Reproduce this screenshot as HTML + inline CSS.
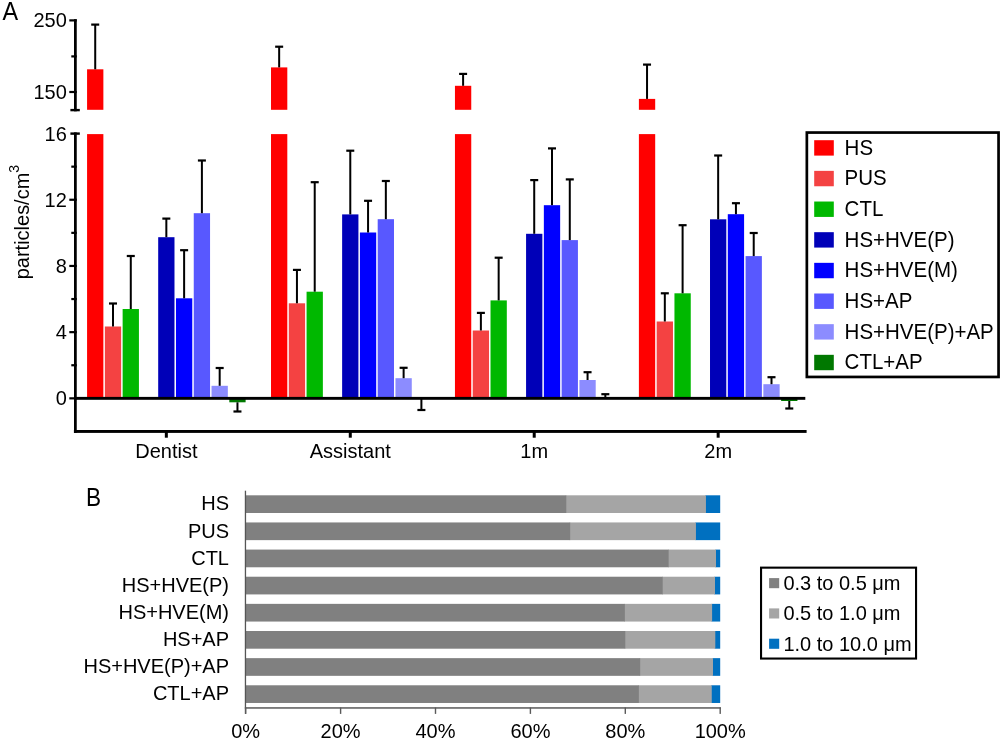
<!DOCTYPE html>
<html><head><meta charset="utf-8"><style>
html,body{margin:0;padding:0;background:#fff;}
svg{display:block;will-change:transform;font-family:"Liberation Sans", sans-serif;}
text{fill:#000;}
</style></head><body>
<svg width="1002" height="741" viewBox="0 0 1002 741">
<rect x="87.07" y="69.30" width="16.30" height="40.50" fill="#ff0000"/>
<rect x="87.07" y="134.10" width="16.30" height="264.25" fill="#ff0000"/>
<rect x="94.22" y="24.60" width="2.00" height="44.70" fill="#000"/>
<rect x="91.22" y="23.50" width="8.00" height="2.20" fill="#000"/>
<rect x="104.85" y="326.50" width="16.30" height="71.85" fill="#f44242"/>
<rect x="112.00" y="303.50" width="2.00" height="23.00" fill="#000"/>
<rect x="109.00" y="302.40" width="8.00" height="2.20" fill="#000"/>
<rect x="122.63" y="309.00" width="16.30" height="89.35" fill="#00b800"/>
<rect x="129.78" y="256.00" width="2.00" height="53.00" fill="#000"/>
<rect x="126.78" y="254.90" width="8.00" height="2.20" fill="#000"/>
<rect x="158.19" y="237.20" width="16.30" height="161.15" fill="#0000b8"/>
<rect x="165.34" y="218.60" width="2.00" height="18.60" fill="#000"/>
<rect x="162.34" y="217.50" width="8.00" height="2.20" fill="#000"/>
<rect x="175.97" y="298.30" width="16.30" height="100.05" fill="#0000ff"/>
<rect x="183.12" y="250.20" width="2.00" height="48.10" fill="#000"/>
<rect x="180.12" y="249.10" width="8.00" height="2.20" fill="#000"/>
<rect x="193.75" y="213.20" width="16.30" height="185.15" fill="#5858ff"/>
<rect x="200.90" y="160.50" width="2.00" height="52.70" fill="#000"/>
<rect x="197.90" y="159.40" width="8.00" height="2.20" fill="#000"/>
<rect x="211.53" y="385.80" width="16.30" height="12.55" fill="#8c8cff"/>
<rect x="218.68" y="368.00" width="2.00" height="17.80" fill="#000"/>
<rect x="215.68" y="366.90" width="8.00" height="2.20" fill="#000"/>
<rect x="229.31" y="398.35" width="16.30" height="3.95" fill="#007800"/>
<rect x="236.46" y="402.30" width="2.00" height="9.20" fill="#000"/>
<rect x="233.46" y="410.40" width="8.00" height="2.20" fill="#000"/>
<rect x="271.01" y="67.40" width="16.30" height="42.40" fill="#ff0000"/>
<rect x="271.01" y="134.10" width="16.30" height="264.25" fill="#ff0000"/>
<rect x="278.16" y="46.70" width="2.00" height="20.70" fill="#000"/>
<rect x="275.16" y="45.60" width="8.00" height="2.20" fill="#000"/>
<rect x="288.79" y="303.30" width="16.30" height="95.05" fill="#f44242"/>
<rect x="295.94" y="269.90" width="2.00" height="33.40" fill="#000"/>
<rect x="292.94" y="268.80" width="8.00" height="2.20" fill="#000"/>
<rect x="306.57" y="291.70" width="16.30" height="106.65" fill="#00b800"/>
<rect x="313.72" y="182.20" width="2.00" height="109.50" fill="#000"/>
<rect x="310.72" y="181.10" width="8.00" height="2.20" fill="#000"/>
<rect x="342.13" y="214.40" width="16.30" height="183.95" fill="#0000b8"/>
<rect x="349.28" y="150.70" width="2.00" height="63.70" fill="#000"/>
<rect x="346.28" y="149.60" width="8.00" height="2.20" fill="#000"/>
<rect x="359.91" y="232.50" width="16.30" height="165.85" fill="#0000ff"/>
<rect x="367.06" y="200.80" width="2.00" height="31.70" fill="#000"/>
<rect x="364.06" y="199.70" width="8.00" height="2.20" fill="#000"/>
<rect x="377.69" y="219.20" width="16.30" height="179.15" fill="#5858ff"/>
<rect x="384.84" y="181.00" width="2.00" height="38.20" fill="#000"/>
<rect x="381.84" y="179.90" width="8.00" height="2.20" fill="#000"/>
<rect x="395.47" y="378.20" width="16.30" height="20.15" fill="#8c8cff"/>
<rect x="402.62" y="367.80" width="2.00" height="10.40" fill="#000"/>
<rect x="399.62" y="366.70" width="8.00" height="2.20" fill="#000"/>
<rect x="413.25" y="398.35" width="16.30" height="0.15" fill="#007800"/>
<rect x="420.40" y="398.50" width="2.00" height="11.50" fill="#000"/>
<rect x="417.40" y="408.90" width="8.00" height="2.20" fill="#000"/>
<rect x="454.95" y="85.80" width="16.30" height="24.00" fill="#ff0000"/>
<rect x="454.95" y="134.10" width="16.30" height="264.25" fill="#ff0000"/>
<rect x="462.10" y="73.90" width="2.00" height="11.90" fill="#000"/>
<rect x="459.10" y="72.80" width="8.00" height="2.20" fill="#000"/>
<rect x="472.73" y="330.50" width="16.30" height="67.85" fill="#f44242"/>
<rect x="479.88" y="312.90" width="2.00" height="17.60" fill="#000"/>
<rect x="476.88" y="311.80" width="8.00" height="2.20" fill="#000"/>
<rect x="490.51" y="300.40" width="16.30" height="97.95" fill="#00b800"/>
<rect x="497.66" y="257.70" width="2.00" height="42.70" fill="#000"/>
<rect x="494.66" y="256.60" width="8.00" height="2.20" fill="#000"/>
<rect x="526.07" y="233.80" width="16.30" height="164.55" fill="#0000b8"/>
<rect x="533.22" y="180.10" width="2.00" height="53.70" fill="#000"/>
<rect x="530.22" y="179.00" width="8.00" height="2.20" fill="#000"/>
<rect x="543.85" y="205.20" width="16.30" height="193.15" fill="#0000ff"/>
<rect x="551.00" y="148.40" width="2.00" height="56.80" fill="#000"/>
<rect x="548.00" y="147.30" width="8.00" height="2.20" fill="#000"/>
<rect x="561.63" y="240.10" width="16.30" height="158.25" fill="#5858ff"/>
<rect x="568.78" y="179.40" width="2.00" height="60.70" fill="#000"/>
<rect x="565.78" y="178.30" width="8.00" height="2.20" fill="#000"/>
<rect x="579.41" y="380.00" width="16.30" height="18.35" fill="#8c8cff"/>
<rect x="586.56" y="372.20" width="2.00" height="7.80" fill="#000"/>
<rect x="583.56" y="371.10" width="8.00" height="2.20" fill="#000"/>
<rect x="597.19" y="398.35" width="16.30" height="0.15" fill="#007800"/>
<rect x="604.34" y="394.20" width="2.00" height="4.30" fill="#000"/>
<rect x="601.34" y="393.10" width="8.00" height="2.20" fill="#000"/>
<rect x="638.89" y="98.90" width="16.30" height="10.90" fill="#ff0000"/>
<rect x="638.89" y="134.10" width="16.30" height="264.25" fill="#ff0000"/>
<rect x="646.04" y="64.60" width="2.00" height="34.30" fill="#000"/>
<rect x="643.04" y="63.50" width="8.00" height="2.20" fill="#000"/>
<rect x="656.67" y="321.50" width="16.30" height="76.85" fill="#f44242"/>
<rect x="663.82" y="293.30" width="2.00" height="28.20" fill="#000"/>
<rect x="660.82" y="292.20" width="8.00" height="2.20" fill="#000"/>
<rect x="674.45" y="293.30" width="16.30" height="105.05" fill="#00b800"/>
<rect x="681.60" y="225.20" width="2.00" height="68.10" fill="#000"/>
<rect x="678.60" y="224.10" width="8.00" height="2.20" fill="#000"/>
<rect x="710.01" y="219.30" width="16.30" height="179.05" fill="#0000b8"/>
<rect x="717.16" y="155.50" width="2.00" height="63.80" fill="#000"/>
<rect x="714.16" y="154.40" width="8.00" height="2.20" fill="#000"/>
<rect x="727.79" y="214.20" width="16.30" height="184.15" fill="#0000ff"/>
<rect x="734.94" y="203.20" width="2.00" height="11.00" fill="#000"/>
<rect x="731.94" y="202.10" width="8.00" height="2.20" fill="#000"/>
<rect x="745.57" y="256.10" width="16.30" height="142.25" fill="#5858ff"/>
<rect x="752.72" y="233.00" width="2.00" height="23.10" fill="#000"/>
<rect x="749.72" y="231.90" width="8.00" height="2.20" fill="#000"/>
<rect x="763.35" y="384.20" width="16.30" height="14.15" fill="#8c8cff"/>
<rect x="770.50" y="377.20" width="2.00" height="7.00" fill="#000"/>
<rect x="767.50" y="376.10" width="8.00" height="2.20" fill="#000"/>
<rect x="781.13" y="398.35" width="16.30" height="2.65" fill="#007800"/>
<rect x="788.28" y="401.00" width="2.00" height="7.50" fill="#000"/>
<rect x="785.28" y="407.40" width="8.00" height="2.20" fill="#000"/>
<rect x="74.00" y="396.90" width="731.30" height="2.90" fill="#000"/>
<rect x="74.00" y="19.20" width="2.75" height="92.10" fill="#000"/>
<rect x="74.00" y="132.40" width="2.75" height="300.50" fill="#000"/>
<rect x="69.30" y="19.30" width="7.45" height="2.20" fill="#000"/>
<rect x="71.30" y="55.30" width="5.45" height="2.20" fill="#000"/>
<rect x="69.30" y="90.90" width="7.45" height="2.20" fill="#000"/>
<rect x="70.40" y="108.90" width="9.40" height="2.40" fill="#000"/>
<rect x="70.40" y="132.40" width="9.40" height="2.40" fill="#000"/>
<rect x="69.30" y="397.25" width="7.45" height="2.20" fill="#000"/>
<rect x="71.30" y="364.15" width="5.45" height="2.20" fill="#000"/>
<rect x="69.30" y="331.05" width="7.45" height="2.20" fill="#000"/>
<rect x="71.30" y="297.95" width="5.45" height="2.20" fill="#000"/>
<rect x="69.30" y="264.85" width="7.45" height="2.20" fill="#000"/>
<rect x="71.30" y="231.75" width="5.45" height="2.20" fill="#000"/>
<rect x="69.30" y="198.65" width="7.45" height="2.20" fill="#000"/>
<rect x="71.30" y="165.55" width="5.45" height="2.20" fill="#000"/>
<rect x="73.90" y="430.00" width="732.70" height="2.90" fill="#000"/>
<rect x="164.84" y="431.00" width="3.00" height="6.70" fill="#000"/>
<text transform="translate(166.34,457.60) scale(1,1.04)" font-size="20" text-anchor="middle" >Dentist</text>
<rect x="348.78" y="431.00" width="3.00" height="6.70" fill="#000"/>
<text transform="translate(350.28,457.60) scale(1,1.04)" font-size="20" text-anchor="middle" >Assistant</text>
<rect x="532.72" y="431.00" width="3.00" height="6.70" fill="#000"/>
<text transform="translate(534.22,457.60) scale(1,1.04)" font-size="20" text-anchor="middle" >1m</text>
<rect x="716.66" y="431.00" width="3.00" height="6.70" fill="#000"/>
<text transform="translate(718.16,457.60) scale(1,1.04)" font-size="20" text-anchor="middle" >2m</text>
<text transform="translate(66.80,27.40) scale(1,1.04)" font-size="20" text-anchor="end" >250</text>
<text transform="translate(66.80,99.00) scale(1,1.04)" font-size="20" text-anchor="end" >150</text>
<text transform="translate(66.80,140.60) scale(1,1.04)" font-size="20" text-anchor="end" >16</text>
<text transform="translate(66.80,207.20) scale(1,1.04)" font-size="20" text-anchor="end" >12</text>
<text transform="translate(66.80,273.00) scale(1,1.04)" font-size="20" text-anchor="end" >8</text>
<text transform="translate(66.80,339.20) scale(1,1.04)" font-size="20" text-anchor="end" >4</text>
<text transform="translate(66.80,405.35) scale(1,1.04)" font-size="20" text-anchor="end" >0</text>
<text transform="translate(28.8,279.3) rotate(-90) scale(1,1.04)" font-size="20">particles/cm<tspan font-size="14" dy="-9">3</tspan></text>
<text transform="translate(2.6,20) scale(0.9,1)" font-size="26">A</text>
<rect x="806.85" y="132.55" width="191.7" height="244.4" fill="none" stroke="#000" stroke-width="2.7"/>
<rect x="814.20" y="140.20" width="19.60" height="15.40" fill="#ff0000"/>
<text transform="translate(844.60,154.70) scale(1,1.04)" font-size="20.5" text-anchor="start" >HS</text>
<rect x="814.20" y="170.86" width="19.60" height="15.40" fill="#f44242"/>
<text transform="translate(844.60,185.36) scale(1,1.04)" font-size="20.5" text-anchor="start" >PUS</text>
<rect x="814.20" y="201.52" width="19.60" height="15.40" fill="#00b800"/>
<text transform="translate(844.60,216.02) scale(1,1.04)" font-size="20.5" text-anchor="start" >CTL</text>
<rect x="814.20" y="232.18" width="19.60" height="15.40" fill="#0000b8"/>
<text transform="translate(844.60,246.68) scale(1,1.04)" font-size="20.5" text-anchor="start" >HS+HVE(P)</text>
<rect x="814.20" y="262.84" width="19.60" height="15.40" fill="#0000ff"/>
<text transform="translate(844.60,277.34) scale(1,1.04)" font-size="20.5" text-anchor="start" >HS+HVE(M)</text>
<rect x="814.20" y="293.50" width="19.60" height="15.40" fill="#5858ff"/>
<text transform="translate(844.60,308.00) scale(1,1.04)" font-size="20.5" text-anchor="start" >HS+AP</text>
<rect x="814.20" y="324.16" width="19.60" height="15.40" fill="#8c8cff"/>
<text transform="translate(844.60,338.66) scale(1,1.04)" font-size="20.5" text-anchor="start" >HS+HVE(P)+AP</text>
<rect x="814.20" y="354.82" width="19.60" height="15.40" fill="#007800"/>
<text transform="translate(844.60,369.32) scale(1,1.04)" font-size="20.5" text-anchor="start" >CTL+AP</text>
<text transform="translate(86,506.3) scale(0.86,1.01)" font-size="26.3">B</text>
<rect x="705.30" y="495.30" width="14.90" height="17.70" fill="#0070c0"/>
<rect x="565.70" y="495.30" width="140.20" height="17.70" fill="#a5a5a5"/>
<rect x="245.70" y="495.30" width="320.60" height="17.70" fill="#808080"/>
<text transform="translate(229.00,510.40) scale(1,1.04)" font-size="20" text-anchor="end" >HS</text>
<rect x="695.30" y="522.44" width="24.90" height="17.70" fill="#0070c0"/>
<rect x="569.60" y="522.44" width="126.30" height="17.70" fill="#a5a5a5"/>
<rect x="245.70" y="522.44" width="324.50" height="17.70" fill="#808080"/>
<text transform="translate(229.00,537.54) scale(1,1.04)" font-size="20" text-anchor="end" >PUS</text>
<rect x="715.40" y="549.58" width="4.80" height="17.70" fill="#0070c0"/>
<rect x="668.10" y="549.58" width="47.90" height="17.70" fill="#a5a5a5"/>
<rect x="245.70" y="549.58" width="423.00" height="17.70" fill="#808080"/>
<text transform="translate(229.00,564.68) scale(1,1.04)" font-size="20" text-anchor="end" >CTL</text>
<rect x="714.40" y="576.72" width="5.80" height="17.70" fill="#0070c0"/>
<rect x="662.20" y="576.72" width="52.80" height="17.70" fill="#a5a5a5"/>
<rect x="245.70" y="576.72" width="417.10" height="17.70" fill="#808080"/>
<text transform="translate(229.00,591.82) scale(1,1.04)" font-size="20" text-anchor="end" >HS+HVE(P)</text>
<rect x="711.50" y="603.86" width="8.70" height="17.70" fill="#0070c0"/>
<rect x="624.30" y="603.86" width="87.80" height="17.70" fill="#a5a5a5"/>
<rect x="245.70" y="603.86" width="379.20" height="17.70" fill="#808080"/>
<text transform="translate(229.00,618.96) scale(1,1.04)" font-size="20" text-anchor="end" >HS+HVE(M)</text>
<rect x="714.70" y="631.00" width="5.50" height="17.70" fill="#0070c0"/>
<rect x="624.70" y="631.00" width="90.60" height="17.70" fill="#a5a5a5"/>
<rect x="245.70" y="631.00" width="379.60" height="17.70" fill="#808080"/>
<text transform="translate(229.00,646.10) scale(1,1.04)" font-size="20" text-anchor="end" >HS+AP</text>
<rect x="712.40" y="658.14" width="7.80" height="17.70" fill="#0070c0"/>
<rect x="639.60" y="658.14" width="73.40" height="17.70" fill="#a5a5a5"/>
<rect x="245.70" y="658.14" width="394.50" height="17.70" fill="#808080"/>
<text transform="translate(229.00,673.24) scale(1,1.04)" font-size="20" text-anchor="end" >HS+HVE(P)+AP</text>
<rect x="711.10" y="685.28" width="9.10" height="17.70" fill="#0070c0"/>
<rect x="638.30" y="685.28" width="73.40" height="17.70" fill="#a5a5a5"/>
<rect x="245.70" y="685.28" width="393.20" height="17.70" fill="#808080"/>
<text transform="translate(229.00,700.38) scale(1,1.04)" font-size="20" text-anchor="end" >CTL+AP</text>
<rect x="244.80" y="490.70" width="1.30" height="223.20" fill="#555"/>
<rect x="244.80" y="707.20" width="476.10" height="1.50" fill="#5a5a5a"/>
<rect x="245.00" y="707.50" width="1.40" height="6.40" fill="#5a5a5a"/>
<text transform="translate(245.70,737.60) scale(1,1.04)" font-size="20" text-anchor="middle" >0%</text>
<rect x="339.90" y="707.50" width="1.40" height="6.40" fill="#5a5a5a"/>
<text transform="translate(340.60,737.60) scale(1,1.04)" font-size="20" text-anchor="middle" >20%</text>
<rect x="434.80" y="707.50" width="1.40" height="6.40" fill="#5a5a5a"/>
<text transform="translate(435.50,737.60) scale(1,1.04)" font-size="20" text-anchor="middle" >40%</text>
<rect x="529.70" y="707.50" width="1.40" height="6.40" fill="#5a5a5a"/>
<text transform="translate(530.40,737.60) scale(1,1.04)" font-size="20" text-anchor="middle" >60%</text>
<rect x="624.60" y="707.50" width="1.40" height="6.40" fill="#5a5a5a"/>
<text transform="translate(625.30,737.60) scale(1,1.04)" font-size="20" text-anchor="middle" >80%</text>
<rect x="719.50" y="707.50" width="1.40" height="6.40" fill="#5a5a5a"/>
<text transform="translate(720.20,737.60) scale(1,1.04)" font-size="20" text-anchor="middle" >100%</text>
<rect x="761.05" y="567.65" width="155" height="90.9" fill="none" stroke="#000" stroke-width="2.1"/>
<rect x="769.10" y="578.10" width="10.10" height="10.10" fill="#808080"/>
<text transform="translate(783.40,589.90) scale(1,1.04)" font-size="20" text-anchor="start" >0.3 to 0.5 μm</text>
<rect x="769.10" y="608.40" width="10.10" height="10.10" fill="#a5a5a5"/>
<text transform="translate(783.40,620.20) scale(1,1.04)" font-size="20" text-anchor="start" >0.5 to 1.0 μm</text>
<rect x="769.10" y="638.70" width="10.10" height="10.10" fill="#0070c0"/>
<text transform="translate(783.40,650.50) scale(1,1.04)" font-size="20" text-anchor="start" >1.0 to 10.0 μm</text>
</svg>
</body></html>
